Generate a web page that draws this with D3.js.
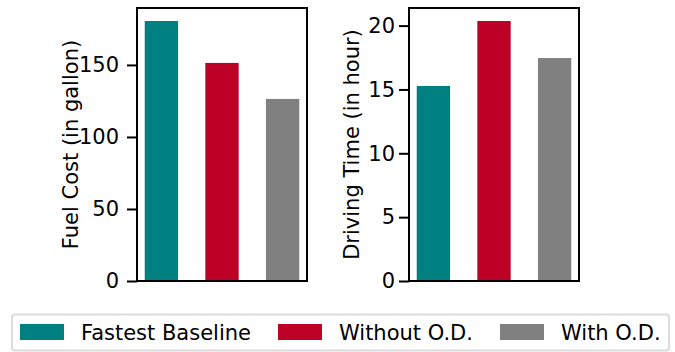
<!DOCTYPE html>
<html>
<head>
<meta charset="utf-8">
<script src="https://cdn.jsdelivr.net/npm/d3@7"></script>
<style>
  body { margin: 0; background: #fff; }
  svg text { font-family: "DejaVu Sans", sans-serif; fill: #000; }
</style>
</head>
<body>
<div id="chart"></div>
<script>
'use strict';

// data
var categories = ['Fastest Baseline', 'Without O.D.', 'With O.D.'],
    colors = ['#008080', '#bd0026', '#808080'],
    fuelCost = [180.5, 151.4, 126.4],
    drivingTime = [15.27, 20.36, 17.46],
    fuelTicks = [0, 50, 100, 150],
    timeTicks = [0, 5, 10, 15, 20];

var W = 675, H = 352,
    plotTop = 8, plotBottom = 281,
    barWidth = 0.55,
    fontSize = 21;

var svg = d3.select('#chart').append('svg')
    .attr('width', W)
    .attr('height', H);

function drawPanel(left, right, values, ticks, label, labelX, tickPad){
    var x, y, g;

    // matplotlib-like 5% margins
    var pad = (2 + barWidth) * 0.05;
    x = d3.scaleLinear()
        .domain([-barWidth / 2 - pad, 2 + barWidth / 2 + pad])
        .range([left, right]);
    y = d3.scaleLinear()
        .domain([0, d3.max(values) * 1.05])
        .range([plotBottom, plotTop]);

    g = svg.append('g');

    g.selectAll('.bar').data(values).enter().append('rect')
        .attr('class', 'bar')
        .attr('x', function(d, i){ return x(i - barWidth / 2); })
        .attr('width', function(d, i){ return x(i + barWidth / 2) - x(i - barWidth / 2); })
        .attr('y', function(d){ return y(d); })
        .attr('height', function(d){ return y(0) - y(d); })
        .style('fill', function(d, i){ return colors[i]; });

    var axis = d3.axisLeft(y)
        .tickValues(ticks)
        .tickSize(10)
        .tickPadding(tickPad)
        .tickSizeOuter(0);
    var ag = g.append('g')
        .attr('transform', 'translate(' + left + ',0)')
        .call(axis);
    ag.select('.domain').remove();
    ag.selectAll('.tick line').style('stroke', '#000').style('stroke-width', 2);
    ag.selectAll('.tick text')
        .style('font-size', fontSize + 'px')
        .style('font-family', '"DejaVu Sans", sans-serif')
        .attr('fill', '#000');

    // frame
    g.append('rect')
        .attr('x', left)
        .attr('y', plotTop)
        .attr('width', right - left)
        .attr('height', plotBottom - plotTop)
        .style('fill', 'none')
        .style('stroke', '#000')
        .style('stroke-width', 2);

    g.append('text')
        .attr('transform', 'translate(' + labelX + ',' + ((plotTop + plotBottom) / 2) + ') rotate(-90)')
        .attr('text-anchor', 'middle')
        .attr('dy', '0.35em')
        .style('font-size', fontSize + 'px')
        .text(label);
}

drawPanel(137, 307, fuelCost, fuelTicks, 'Fuel Cost (in gallon)', 71, 8);
drawPanel(409, 579, drivingTime, timeTicks, 'Driving Time (in hour)', 352, 4);

// legend
var legend = svg.append('g');
legend.append('rect')
    .attr('x', 12)
    .attr('y', 314.5)
    .attr('width', 657)
    .attr('height', 36)
    .attr('rx', 3)
    .style('fill', '#fff')
    .style('stroke', '#dcdcdc')
    .style('stroke-width', 2);

var legendX = [20, 278, 500];
var items = legend.selectAll('.item').data(categories).enter().append('g')
    .attr('class', 'item')
    .attr('transform', function(d, i){ return 'translate(' + legendX[i] + ',0)'; });
items.append('rect')
    .attr('x', 0)
    .attr('y', 324)
    .attr('width', 44)
    .attr('height', 16)
    .style('fill', function(d, i){ return colors[i]; });
items.append('text')
    .attr('x', 61)
    .attr('y', 340)
    .style('font-size', fontSize + 'px')
    .text(function(d){ return d; });
</script>
</body>
</html>
